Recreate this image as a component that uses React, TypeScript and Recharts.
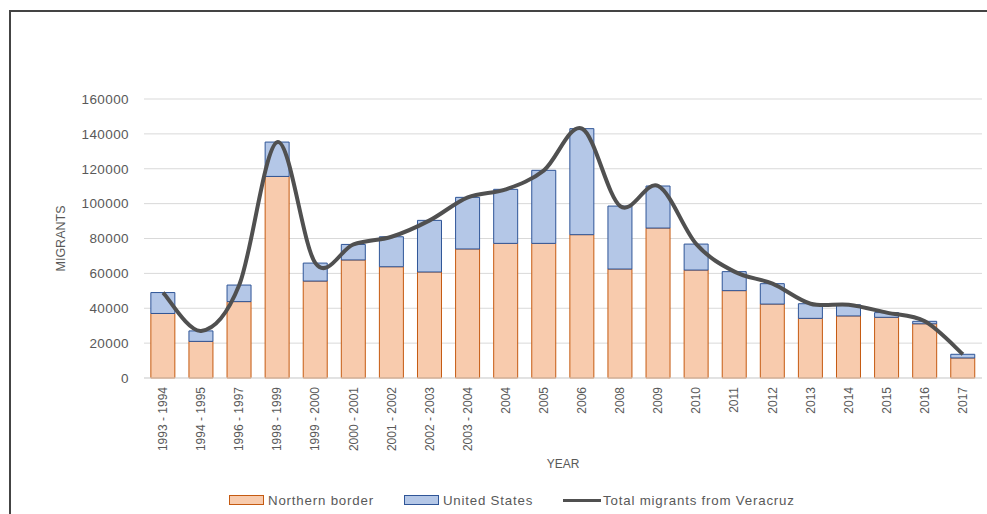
import { Bar, CartesianGrid, ComposedChart, Legend, Line, XAxis, YAxis } from "recharts"

const years = [
  "1993 - 1994", "1994 - 1995", "1996 - 1997", "1998 - 1999", "1999 - 2000",
  "2000 - 2001", "2001 - 2002", "2002 - 2003", "2003 - 2004", "2004", "2005",
  "2006", "2008", "2009", "2010", "2011", "2012", "2013", "2014", "2015", "2016", "2017",
]
const northernBorder = [
  37000, 21000, 43800, 115600, 55600, 67700, 63800, 60800, 74000, 77200, 77200,
  82200, 62500, 86000, 61900, 50100, 42400, 34200, 35600, 34800, 31100, 11500,
]
const unitedStates = [
  12000, 6000, 9500, 19700, 10300, 8900, 17200, 29600, 29600, 31000, 41900,
  60800, 36100, 24100, 14900, 10900, 11700, 8400, 6400, 2700, 1400, 2100,
]
const totalMigrants = [
  49000, 27000, 53300, 135300, 65900, 76600, 81000, 90400, 103600, 108200, 119100,
  143000, 98600, 110100, 76800, 61000, 54100, 42600, 42000, 37500, 32500, 13600,
]
const yTicks = [0, 20000, 40000, 60000, 80000, 100000, 120000, 140000, 160000]

const data = years.map((year, i) => ({
  year,
  northern: northernBorder[i],
  us: unitedStates[i],
  total: totalMigrants[i],
}))

const FONT = '"Liberation Sans", Arial, sans-serif'
const TEXT = "#595959"

// Excel-style smoothed line (Catmull-Rom through every point)
const excelSmooth = (context: any) => {
  let xs: number[] = []
  let ys: number[] = []
  return {
    areaStart() {},
    areaEnd() {},
    lineStart() {
      xs = []
      ys = []
    },
    point(x: number, y: number) {
      xs.push(+x)
      ys.push(+y)
    },
    lineEnd() {
      const n = xs.length
      if (!n) return
      context.moveTo(xs[0], ys[0])
      for (let i = 0; i < n - 1; i++) {
        const p = Math.max(i - 1, 0)
        const q = Math.min(i + 2, n - 1)
        context.bezierCurveTo(
          xs[i] + (xs[i + 1] - xs[p]) / 6,
          ys[i] + (ys[i + 1] - ys[p]) / 6,
          xs[i + 1] - (xs[q] - xs[i]) / 6,
          ys[i + 1] - (ys[q] - ys[i]) / 6,
          xs[i + 1],
          ys[i + 1]
        )
      }
    },
  }
}

function YearTick({ x, y, payload }: any) {
  return (
    <text
      x={x}
      y={y}
      transform={`rotate(-90 ${x} ${y})`}
      textAnchor="end"
      dominantBaseline="central"
      fontSize={12}
      fontFamily={FONT}
      fill={TEXT}
    >
      {payload.value}
    </text>
  )
}

function ChartLegend() {
  const swatch = { display: "inline-block", width: 33, height: 8 }
  return (
    <div
      style={{
        display: "flex",
        alignItems: "center",
        paddingLeft: 229,
        fontSize: 13.3,
        letterSpacing: 0.8,
        fontFamily: FONT,
        color: TEXT,
        height: 24,
      }}
    >
      <span style={{ ...swatch, background: "#f8cbad", border: "1px solid #c55a11" }} />
      <span style={{ marginLeft: 4, marginRight: 30 }}>Northern border</span>
      <span style={{ ...swatch, background: "#b4c7e7", border: "1px solid #2f5597" }} />
      <span style={{ marginLeft: 4, marginRight: 30 }}>United States</span>
      <span style={{ display: "inline-block", width: 38, height: 3, background: "#505050" }} />
      <span style={{ marginLeft: 2 }}>Total migrants from Veracruz</span>
    </div>
  )
}

export default function App() {
  return (
    <div style={{ position: "absolute", left: 0, top: 0, width: 987, height: 514, background: "#fff" }}>
      <div
        style={{
          position: "absolute",
          left: 9,
          top: 10,
          width: 978,
          height: 504,
          borderTop: "2px solid #444",
          borderLeft: "2px solid #444",
        }}
      />
      <ComposedChart
        width={987}
        height={514}
        data={data}
        margin={{ top: 99, right: 5, left: 0, bottom: 2 }}
        barCategoryGap="18%"
        style={{ position: "absolute", left: 0, top: 0 }}
      >
        <CartesianGrid vertical={false} stroke="#d9d9d9" />
        <XAxis
          dataKey="year"
          height={110}
          interval={0}
          tickLine={false}
          tickSize={0}
          tickMargin={9}
          axisLine={{ stroke: "#d9d9d9" }}
          tick={<YearTick />}
          label={{
            value: "YEAR",
            position: "insideBottom",
            offset: 20,
            fill: TEXT,
            fontSize: 12,
            fontFamily: FONT,
          }}
        />
        <YAxis
          width={144}
          domain={[0, 160000]}
          ticks={yTicks}
          axisLine={false}
          tickLine={false}
          tickSize={0}
          tickMargin={15}
          tick={{ fill: TEXT, fontSize: 13.5, fontFamily: FONT, letterSpacing: 0.4 }}
          label={{
            value: "MIGRANTS",
            angle: -90,
            position: "insideLeft",
            offset: 61,
            fill: TEXT,
            fontSize: 12.5,
            fontFamily: FONT,
            style: { textAnchor: "middle" },
          }}
        />
        <Legend
          verticalAlign="bottom"
          height={24}
          wrapperStyle={{ left: 0, width: 987 }}
          content={() => <ChartLegend />}
        />
        <Bar
          dataKey="northern"
          name="Northern border"
          stackId="m"
          fill="#f8cbad"
          stroke="#c55a11"
          strokeWidth={1}
          isAnimationActive={false}
        />
        <Bar
          dataKey="us"
          name="United States"
          stackId="m"
          fill="#b4c7e7"
          stroke="#2f5597"
          strokeWidth={1}
          isAnimationActive={false}
        />
        <Line
          dataKey="total"
          name="Total migrants from Veracruz"
          type={excelSmooth as any}
          stroke="#505050"
          strokeWidth={4}
          dot={false}
          activeDot={false}
          isAnimationActive={false}
        />
      </ComposedChart>
    </div>
  )
}
